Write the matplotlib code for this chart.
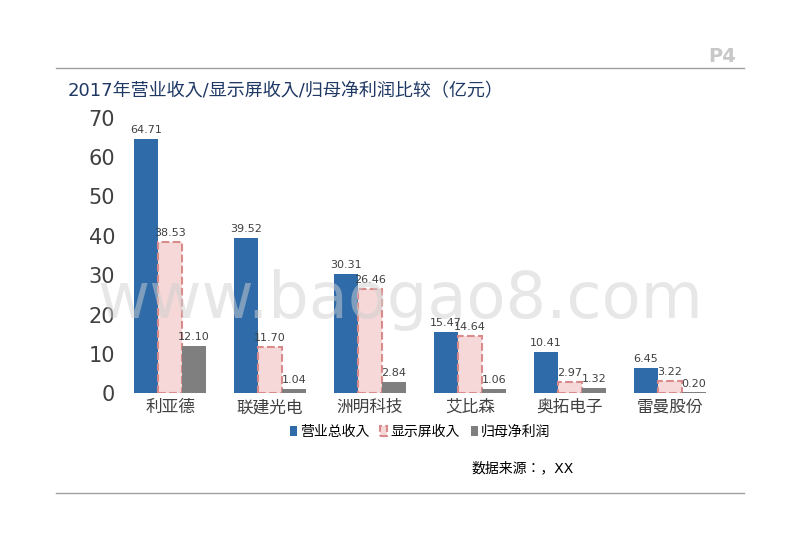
import numpy as np
import matplotlib
matplotlib.use('Agg')
from matplotlib import pyplot as plt
from matplotlib import font_manager

# pick an installed sans CJK font file
cjk = [f for f in font_manager.findSystemFonts() if 'cjk' in f.lower()]
families = []
for f in cjk:
    try:
        font_manager.fontManager.addfont(f)
        families.append(font_manager.FontProperties(fname=f).get_name())
    except Exception:
        pass
pref = ([n for n in families if 'Sans' in n and 'SC' in n]
        + [n for n in families if 'Sans' in n] + families)
plt.rcParams['font.family'] = ['DejaVu Sans'] + (pref[:1] or ['Noto Sans CJK SC'])

categories = ['利亚德', '联建光电', '洲明科技', '艾比森', '奥拓电子', '雷曼股份']
revenue = [64.71, 39.52, 30.31, 15.47, 10.41, 6.45]
display_rev = [38.53, 11.70, 26.46, 14.64, 2.97, 3.22]
net_profit = [12.10, 1.04, 2.84, 1.06, 1.32, 0.20]
series_names = ['营业总收入', '显示屏收入', '归母净利润']

fig = plt.figure(figsize=(8, 5.35), dpi=100)
ax = fig.add_axes([0.15, 0.265, 0.75, 0.515])

x = np.arange(len(categories))
w = 0.24
b1 = ax.bar(x - w, revenue, w, color='#2E6BA8', label=series_names[0])
b2 = ax.bar(x, display_rev, w, color='#F6D8D8', edgecolor='#D98A8A',
            linestyle='--', linewidth=1.5, label=series_names[1])
b3 = ax.bar(x + w, net_profit, w, color='#7F7F7F', label=series_names[2])
for bars in (b1, b2, b3):
    for r in bars:
        ax.text(r.get_x() + r.get_width() / 2, r.get_height() + 1.0,
                f'{r.get_height():.2f}', ha='center', va='bottom',
                fontsize=8, color='#404040')

ax.set_ylim(0, 70)
ax.set_yticks(range(0, 71, 10))
ax.set_xlim(-0.5, len(categories) - 0.5)
ax.set_xticks(x)
ax.set_xticklabels(categories, fontsize=12, color='#404040')
ax.tick_params(axis='y', labelsize=15, colors='#404040', length=0)
ax.tick_params(axis='x', length=0)
for s in ax.spines.values():
    s.set_visible(False)

ax.legend(loc='upper center', bbox_to_anchor=(0.5, -0.07), ncol=3, frameon=False,
          fontsize=10, handlelength=0.5, handletextpad=0.2, columnspacing=0.8)

fig.text(0.59, 0.118, '数据来源：，XX', fontsize=10, color='black')
fig.text(0.085, 0.82, '2017年营业收入/显示屏收入/归母净利润比较（亿元）',
         fontsize=13, color='#1F3864')
fig.text(0.885, 0.885, 'P4', fontsize=14, color='#C8C8C8', weight='bold')
fig.text(0.5, 0.44, 'www.baogao8.com', fontsize=46, color='#D0D0D0',
         alpha=0.5, ha='center', va='center', zorder=0)
fig.add_artist(plt.Line2D([0.07, 0.93], [0.873, 0.873], color='#A0A0A0', lw=1))
fig.add_artist(plt.Line2D([0.07, 0.93], [0.078, 0.078], color='#A0A0A0', lw=1))

fig.savefig('out.png')
